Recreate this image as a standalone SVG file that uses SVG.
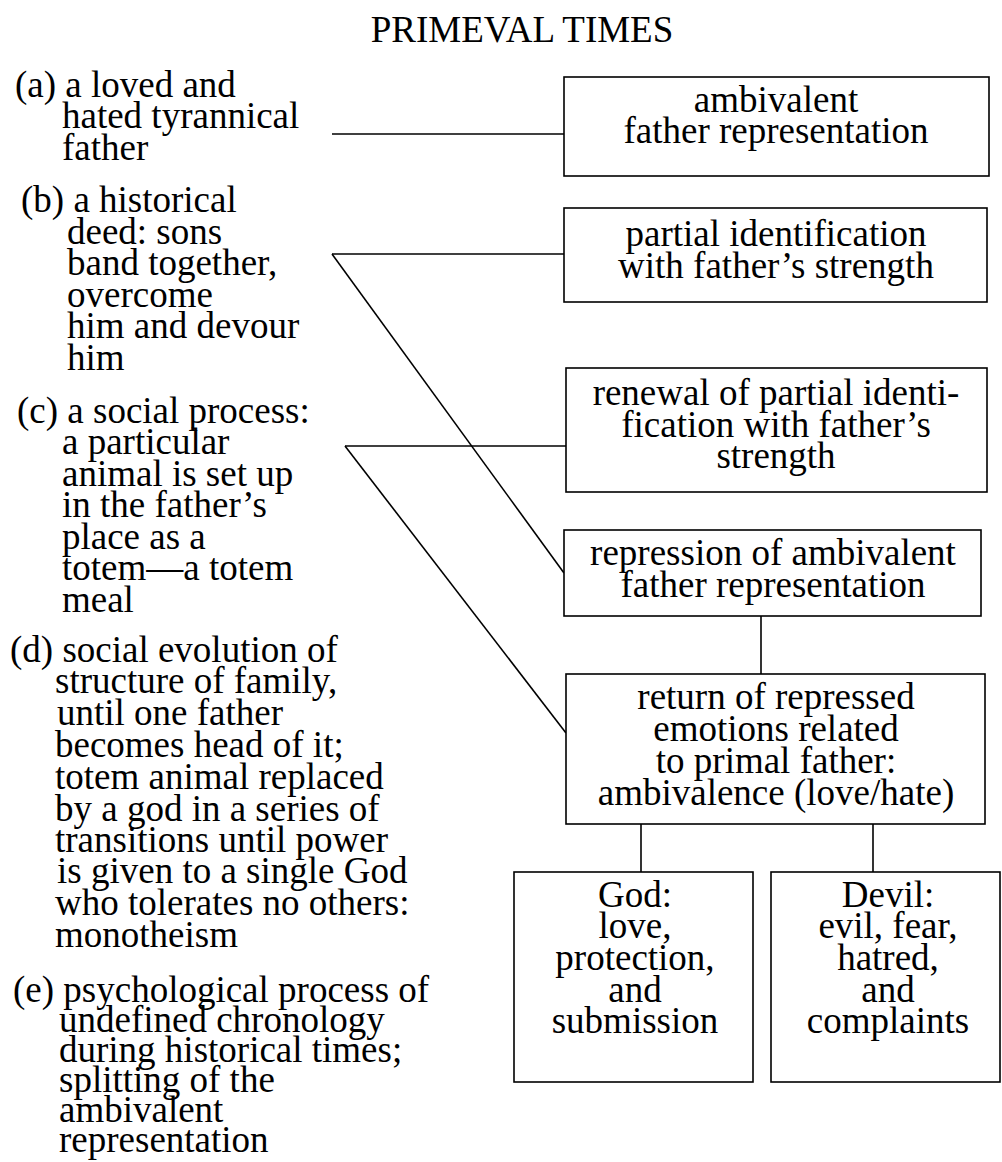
<svg xmlns="http://www.w3.org/2000/svg" width="1002" height="1162" viewBox="0 0 1002 1162">
<style>
text{font-family:"Liberation Serif","Times New Roman",serif;font-size:37px;fill:#000}
.c{text-anchor:middle}
rect{fill:#fff;stroke:#000;stroke-width:1.6}
line{stroke:#000;stroke-width:1.6;fill:none}
</style>
<rect x="0" y="0" width="1002" height="1162" style="stroke:none"/>
<text id="title" class="c" x="522" y="42">PRIMEVAL TIMES</text>
<g id="connectors">
<line x1="332" y1="134" x2="564" y2="134"/>
<line x1="332" y1="254" x2="564" y2="254"/>
<line x1="332" y1="254" x2="564" y2="573"/>
<line x1="345" y1="446" x2="566" y2="446"/>
<line x1="345" y1="446" x2="566" y2="733"/>
<line x1="761" y1="616" x2="761" y2="674"/>
<line x1="641" y1="824" x2="641" y2="872"/>
<line x1="873" y1="824" x2="873" y2="872"/>
</g>
<g id="item-a">
<text x="15" y="97">(a) a loved and</text>
<text x="62" y="128">hated tyrannical</text>
<text x="62" y="160">father</text>
</g>
<g id="item-b">
<text x="21" y="212">(b) a historical</text>
<text x="67" y="244">deed: sons</text>
<text x="67" y="275">band together,</text>
<text x="67" y="307">overcome</text>
<text x="67" y="338">him and devour</text>
<text x="67" y="370">him</text>
</g>
<g id="item-c">
<text x="17" y="423">(c) a social process:</text>
<text x="62" y="454">a particular</text>
<text x="62" y="486">animal is set up</text>
<text x="62" y="517">in the father’s</text>
<text x="62" y="549">place as a</text>
<text x="62" y="580">totem—a totem</text>
<text x="62" y="612">meal</text>
</g>
<g id="item-d">
<text x="10" y="662">(d) social evolution of</text>
<text x="55" y="693">structure of family,</text>
<text x="57" y="725">until one father</text>
<text x="55" y="757">becomes head of it;</text>
<text x="55" y="789">totem animal replaced</text>
<text x="55" y="821">by a god in a series of</text>
<text x="55" y="852">transitions until power</text>
<text x="57" y="883">is given to a single God</text>
<text x="55" y="915">who tolerates no others:</text>
<text x="55" y="947">monotheism</text>
</g>
<g id="item-e">
<text x="13" y="1002">(e) psychological process of</text>
<text x="59" y="1032">undefined chronology</text>
<text x="59" y="1062">during historical times;</text>
<text x="59" y="1092">splitting of the</text>
<text x="59" y="1122">ambivalent</text>
<text x="59" y="1152">representation</text>
</g>
<g id="box-ambivalent">
<rect x="564" y="77" width="425" height="99"/>
<text class="c" x="776" y="112">ambivalent</text>
<text class="c" x="776" y="143">father representation</text>
</g>
<g id="box-partial">
<rect x="564" y="208" width="423" height="94"/>
<text class="c" x="776" y="246">partial identification</text>
<text class="c" x="776" y="278">with father’s strength</text>
</g>
<g id="box-renewal">
<rect x="566" y="368" width="421" height="124"/>
<text class="c" x="776" y="405">renewal of partial identi-</text>
<text class="c" x="776" y="437">fication with father’s</text>
<text class="c" x="776" y="468">strength</text>
</g>
<g id="box-repression">
<rect x="564" y="530" width="417" height="86"/>
<text class="c" x="773" y="565">repression of ambivalent</text>
<text class="c" x="773" y="597">father representation</text>
</g>
<g id="box-return">
<rect x="566" y="674" width="419" height="150"/>
<text class="c" x="776" y="709">return of repressed</text>
<text class="c" x="776" y="741">emotions related</text>
<text class="c" x="776" y="773">to primal father:</text>
<text class="c" x="776" y="805">ambivalence (love/hate)</text>
</g>
<g id="box-god">
<rect x="514" y="872" width="239" height="210"/>
<text class="c" x="635" y="907">God:</text>
<text class="c" x="635" y="938">love,</text>
<text class="c" x="635" y="970">protection,</text>
<text class="c" x="635" y="1002">and</text>
<text class="c" x="635" y="1033">submission</text>
</g>
<g id="box-devil">
<rect x="771" y="872" width="229" height="210"/>
<text class="c" x="888" y="907">Devil:</text>
<text class="c" x="888" y="938">evil, fear,</text>
<text class="c" x="888" y="970">hatred,</text>
<text class="c" x="888" y="1002">and</text>
<text class="c" x="888" y="1033">complaints</text>
</g>
</svg>
